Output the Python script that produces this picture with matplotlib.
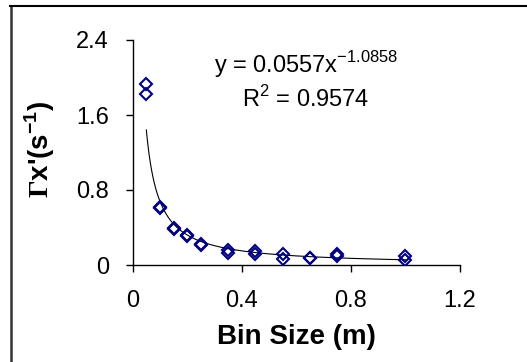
import numpy as np
import matplotlib
matplotlib.use('Agg')
import matplotlib.pyplot as plt
from matplotlib.lines import Line2D

# --- Data ---
bin_size = [0.05, 0.10, 0.15, 0.20, 0.25, 0.35, 0.45, 0.55, 0.65, 0.75, 1.00]
gamma_run1 = [1.93, 0.62, 0.40, 0.32, 0.21, 0.16, 0.15, 0.12, 0.08, 0.12, 0.10]
gamma_run2 = [1.82, 0.61, 0.38, 0.31, 0.22, 0.13, 0.12, 0.06, 0.08, 0.10, 0.05]

# power-law trendline coefficients shown on the chart
FIT_A = 0.0557
FIT_B = -1.0858
FIT_R2 = 0.9574

x_ticks = [0, 0.4, 0.8, 1.2]
y_ticks = [0, 0.8, 1.6, 2.4]

plt.rcParams['font.family'] = 'Liberation Sans'
plt.rcParams['mathtext.fontset'] = 'custom'
plt.rcParams['mathtext.rm'] = 'Liberation Serif:bold'
plt.rcParams['mathtext.sf'] = 'Liberation Sans:bold'
plt.rcParams['mathtext.tt'] = 'Liberation Sans'

W, H = 527, 362
fig = plt.figure(figsize=(W / 100, H / 100), dpi=100)
ax = fig.add_axes([132.7 / W, 1 - 265 / H, (460 - 132.7) / W, (265 - 40) / H])

navy = '#000080'
ax.plot(bin_size, gamma_run1, linestyle='none', marker='D', ms=6.6,
        mfc='none', mec=navy, mew=1.5, zorder=3)
ax.plot(bin_size, gamma_run2, linestyle='none', marker='D', ms=6.6,
        mfc='none', mec=navy, mew=1.5, zorder=3)

xf = np.linspace(bin_size[0], bin_size[-1], 200)
ax.plot(xf, FIT_A * xf ** FIT_B, color='black', lw=0.8, zorder=2)

ax.set_xlim(0, 1.2)
ax.set_ylim(0, 2.4)
ax.set_xticks(x_ticks)
ax.set_xticklabels(['0', '0.4', '0.8', '1.2'])
ax.set_yticks(y_ticks)
ax.set_yticklabels(['0', '0.8', '1.6', '2.4'])
for s in ['top', 'right']:
    ax.spines[s].set_visible(False)
for s in ['left', 'bottom']:
    ax.spines[s].set_linewidth(1.0)
ax.tick_params(direction='out', length=5, width=1.0, labelsize=17)
ax.tick_params(axis='x', pad=13)
ax.tick_params(axis='y', pad=12)

fig.text(296 / W, 1 - 337 / H, 'Bin Size (m)', ha='center', va='center',
         fontsize=20, fontweight='bold')
fig.text(40 / W, 1 - 149 / H, r"$\Gamma$x'(s$^{\mathsf{-1}}$)", ha='center',
         va='center', rotation=90, fontsize=20, fontweight='bold')

fig.text(306 / W, 1 - 65 / H,
         r'y = 0.0557x$^{\mathtt{%s}}$' % ('%.4f' % FIT_B),
         ha='center', va='center', fontsize=17)
fig.text(306 / W, 1 - 99 / H, r'R$^{\mathtt{2}}$ = %.4f' % FIT_R2,
         ha='center', va='center', fontsize=17)

# outer frame (top and left edges only are visible)
fig.add_artist(Line2D([11 / W, 11 / W], [0, 1 - 6 / H], transform=fig.transFigure,
                      color='#333333', lw=1.8))
fig.add_artist(Line2D([10 / W, 1], [1 - 6 / H, 1 - 6 / H], transform=fig.transFigure,
                      color='black', lw=1.5))

fig.savefig('out.png', dpi=100)
